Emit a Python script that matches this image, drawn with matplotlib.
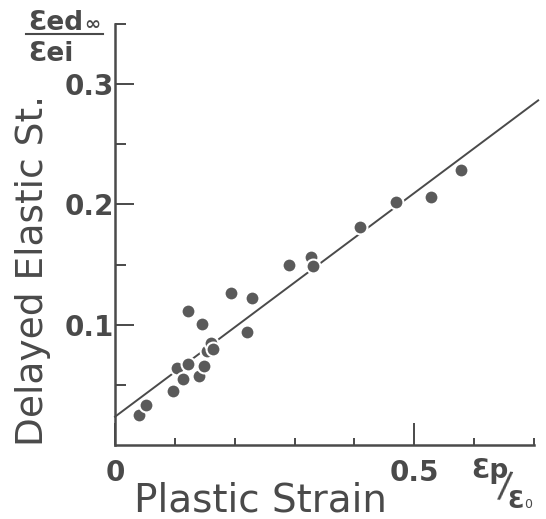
import matplotlib.pyplot as plt
from matplotlib.ticker import FixedLocator
import numpy as np

# data
plastic_strain = [0.040, 0.052, 0.097, 0.104, 0.113, 0.122, 0.122, 0.140, 0.148,
                  0.146, 0.154, 0.161, 0.164, 0.194, 0.229, 0.221, 0.290, 0.328,
                  0.330, 0.410, 0.470, 0.528, 0.578]
delayed_elastic = [0.025, 0.033, 0.045, 0.064, 0.055, 0.067, 0.111, 0.057, 0.066,
                   0.101, 0.078, 0.085, 0.080, 0.126, 0.122, 0.094, 0.150, 0.156,
                   0.149, 0.181, 0.202, 0.206, 0.229]
fit_intercept = 0.0235
fit_slope = 0.372

ink = '#4a4a4a'
plt.rcParams['font.family'] = ['DejaVu Sans']

fig = plt.figure(figsize=(5.46, 5.19), dpi=100)
W, H = 546, 519
ax = fig.add_axes([115 / W, 1 - 445 / H, 419 / W, 421 / H])

# fitted line, broken around the points by white marker edges
xs = np.array([0, 0.707])
ax.plot(xs, fit_intercept + fit_slope * xs, color=ink, lw=1.4, clip_on=False, zorder=2)
ax.plot(plastic_strain, delayed_elastic, 'o', ms=10, color='#5a5a5a',
        mec='white', mew=1.5, zorder=3, clip_on=False)

ax.set_xlim(0, 0.7)
ax.set_ylim(0, 0.35)
for s in ['top', 'right']:
    ax.spines[s].set_visible(False)
for s in ['left', 'bottom']:
    ax.spines[s].set_linewidth(1.8)
    ax.spines[s].set_color(ink)

ax.xaxis.set_major_locator(FixedLocator([0, 0.5]))
ax.xaxis.set_minor_locator(FixedLocator([0.1, 0.2, 0.3, 0.4, 0.6, 0.7]))
ax.set_xticklabels(['0', '0.5'])
ax.yaxis.set_major_locator(FixedLocator([0.1, 0.2, 0.3]))
ax.yaxis.set_minor_locator(FixedLocator([0.05, 0.15, 0.25, 0.35]))
ax.set_yticklabels(['0.1', '0.2', '0.3'])

ax.tick_params(axis='x', which='major', direction='in', length=16, width=1.4,
               color=ink, pad=10, labelsize=20, labelcolor=ink)
ax.tick_params(axis='x', which='minor', direction='in', length=5, width=1.4, color=ink)
ax.tick_params(axis='y', which='major', direction='in', length=14, width=1.4,
               color=ink, pad=1, labelsize=20, labelcolor=ink)
ax.tick_params(axis='y', which='minor', direction='in', length=8, width=1.4, color=ink)
for lab in ax.get_xticklabels() + ax.get_yticklabels():
    lab.set_fontweight('bold')

# axis labels
fig.text(260 / W, 1 - 512 / H, 'Plastic Strain', fontsize=28, color=ink,
         ha='center', va='baseline')
fig.text(43 / W, 1 - 270 / H, 'Delayed Elastic St.', fontsize=27, color=ink,
         rotation=90, rotation_mode='anchor', ha='center', va='baseline')

# unit  εp / ε0
fig.text(471 / W, 1 - 478 / H, 'Ɛp', fontsize=19, fontweight='bold', color=ink,
         ha='left', va='baseline')
fig.text(505 / W, 1 - 486 / H, '/', fontsize=26, color=ink, ha='center',
         va='center', rotation=-8)
fig.text(507 / W, 1 - 508 / H, 'Ɛ', fontsize=17, fontweight='bold', color=ink,
         ha='left', va='baseline')
fig.text(524 / W, 1 - 508 / H, '0', fontsize=9, color=ink, ha='left', va='baseline')

# y quantity  εed∞ / εei
fig.text(28 / W, 1 - 30 / H, 'Ɛed', fontsize=19, fontweight='bold', color=ink,
         ha='left', va='baseline')
fig.text(84 / W, 1 - 30 / H, '∞', fontsize=14, fontweight='bold', color=ink,
         ha='left', va='baseline')
fig.add_artist(plt.Line2D([26 / W, 103 / W], [1 - 34 / H, 1 - 34 / H],
                          color=ink, lw=1.5))
fig.text(28 / W, 1 - 61 / H, 'Ɛei', fontsize=19, fontweight='bold', color=ink,
         ha='left', va='baseline')

fig.savefig('out.png', dpi=100)
